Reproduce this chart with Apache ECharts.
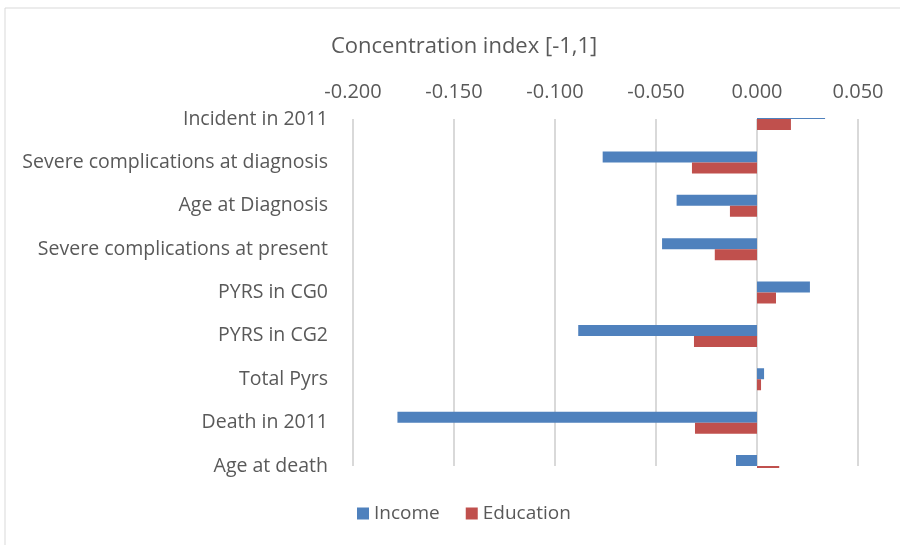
<!DOCTYPE html>
<html>
<head>
<meta charset="utf-8">
<script src="https://cdn.jsdelivr.net/npm/echarts@6/dist/echarts.min.js"></script>
<style>
html, body { margin: 0; padding: 0; background: #fff; }
#Echarts_Div { width: 900px; height: 545px; }
</style>
</head>
<body>
<div id="Echarts_Div"></div>
<script>
var categories = ["Incident in 2011", "Severe complications at diagnosis", "Age at Diagnosis",
    "Severe complications at present", "PYRS in CG0", "PYRS in CG2", "Total Pyrs",
    "Death in 2011", "Age at death"];
var income = [0.0337, -0.0764, -0.0398, -0.047, 0.0262, -0.0885, 0.0035, -0.178, -0.0104];
var education = [0.0168, -0.0322, -0.0134, -0.0209, 0.0094, -0.0312, 0.002, -0.0307, 0.011];
var xTicks = [-0.2, 0.05, 0.05]; // min, max, interval

function drawBars() {
    var myChart = echarts.init(document.getElementById("Echarts_Div"));
    var font = "'Open Sans', 'Liberation Sans', sans-serif";
    var gTop = 119, gBottom = 79, gLeft = 353, gRight = 42;
    var option = {
        animation: false,
        textStyle: { fontFamily: font },
        title: {
            text: 'Concentration index [-1,1]',
            left: 326, top: 31,
            textStyle: { fontSize: 22, fontWeight: 'normal', color: '#595959', fontFamily: font }
        },
        graphic: [{
            type: 'rect',
            shape: { x: 5, y: 8, width: 900, height: 560 },
            style: { fill: 'none', stroke: '#d9d9d9', lineWidth: 1 },
            silent: true
        }, {
            // bars at the first/last category overflow the plot; hide that part like Excel does
            type: 'rect', z: 100, silent: true,
            shape: { x: gLeft - 2, y: gTop - 14, width: 900 - gLeft - gRight + 4, height: 13 },
            style: { fill: '#fff' }
        }, {
            type: 'rect', z: 100, silent: true,
            shape: { x: gLeft - 2, y: 545 - gBottom + 2, width: 900 - gLeft - gRight + 4, height: 12 },
            style: { fill: '#fff' }
        }],
        legend: {
            bottom: 17, left: 352,
            itemWidth: 12, itemHeight: 12, itemGap: 26,
            icon: 'rect',
            textStyle: { fontSize: 19, color: '#595959', fontFamily: font },
            data: ['Income', 'Education']
        },
        grid: { left: gLeft, right: gRight, top: gTop, bottom: gBottom },
        xAxis: {
            type: 'value',
            position: 'top',
            min: xTicks[0], max: xTicks[1], interval: xTicks[2],
            axisLine: { show: false },
            axisTick: { show: false },
            axisLabel: {
                fontSize: 20, color: '#595959', margin: 17,
                formatter: function (v) { return v.toFixed(3); }
            },
            splitLine: { lineStyle: { color: '#d9d9d9', width: 2 } }
        },
        yAxis: {
            type: 'category',
            inverse: true,
            boundaryGap: false,
            data: categories,
            axisLine: { show: false },
            axisTick: { show: false },
            splitLine: { show: false },
            axisLabel: { fontSize: 19.5, color: '#595959', margin: 25, padding: [3, 0, 0, 0] }
        },
        series: [{
            name: 'Income', type: 'bar', data: income,
            barWidth: 11, barGap: '0%',
            itemStyle: { color: '#4F81BD' }
        }, {
            name: 'Education', type: 'bar', data: education,
            barWidth: 11, barGap: '0%',
            itemStyle: { color: '#C0504D' }
        }]
    };
    myChart.setOption(option);
}
window.onload = function () {
    drawBars();
};
</script>
</body>
</html>
